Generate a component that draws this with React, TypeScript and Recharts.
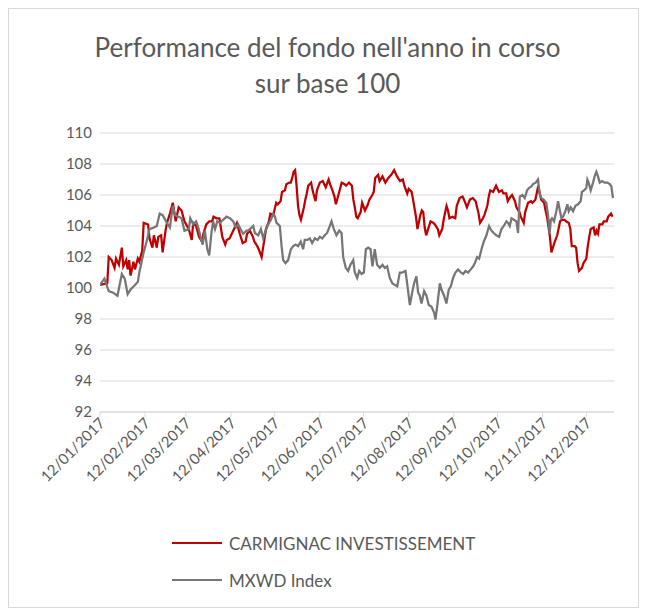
import React from "react"
import { LineChart, Line, XAxis, YAxis, CartesianGrid } from "recharts"

// days counted from 12/01/2017
const tickDays = [0, 31, 59, 90, 120, 151, 181, 212, 243, 273, 304, 334]
const tickLabels = [
  "12/01/2017", "12/02/2017", "12/03/2017", "12/04/2017", "12/05/2017", "12/06/2017",
  "12/07/2017", "12/08/2017", "12/09/2017", "12/10/2017", "12/11/2017", "12/12/2017",
]
const yTicks = [92, 94, 96, 98, 100, 102, 104, 106, 108, 110]

const carmignacDay = [
  0, 5, 6, 8, 10, 11, 13, 15, 16, 18, 19, 20, 21, 23, 24, 26, 27, 29, 30, 33, 34, 36, 37, 39, 40, 42, 43, 45, 46, 48, 50,
  52, 54, 56, 58, 61, 63, 64, 66, 68, 70, 71, 73, 75, 77, 78, 80, 82, 84, 86, 87, 89, 91, 93, 94, 96, 98, 100, 101,
  103, 105, 106, 108, 109, 111, 112, 114, 116, 117, 119, 121, 122, 124, 125, 127, 128, 130, 131, 132, 133, 134, 135,
  136, 137, 138, 140, 141, 142, 143, 145, 146, 148, 149, 151, 153, 155, 157, 158, 160, 161, 162, 164, 166, 168, 169,
  171, 173, 174, 175, 176, 177, 179, 180, 182, 184, 185, 187, 188, 189, 191, 192, 194, 196, 198, 200, 202, 204, 206,
  208, 209, 211, 212, 214, 215, 217, 218, 220, 221, 222, 223, 224, 225, 227, 229, 230, 232, 233, 235, 236, 238, 239,
  240, 242, 244, 245, 247, 249, 250, 252, 254, 256, 258, 260, 261, 263, 264, 266, 267, 268, 270, 272, 274, 276, 277,
  279, 280, 282, 283, 285, 286, 288, 289, 291, 292, 294, 296, 297, 299, 301, 302, 303, 305, 306, 307, 309, 310, 312,
  314, 316, 317, 319, 320, 322, 323, 324, 326, 327, 328, 329, 331, 332, 334, 335, 336, 337, 339, 340, 341, 342, 343,
  345, 346, 348, 349, 351, 352,
]
const carmignacValue = [
  100.2, 100.3, 102.0, 101.8, 101.3, 101.9, 101.5, 102.6, 101.4, 101.8, 101.2, 101.8, 100.8, 101.7, 101.2, 101.9, 101.7,
  102.4, 104.2, 104.1, 103.2, 102.6, 103.4, 102.6, 103.3, 103.4, 102.3, 103.7, 104.2, 104.8, 105.5,
  104.3, 105.2, 105.0, 104.3, 103.8, 103.1, 104.2, 104.0, 103.3, 103.0, 103.5, 104.1, 104.3, 104.3, 104.6, 104.5, 104.5,
  103.3, 102.8, 103.1, 103.2, 103.6, 104.0, 104.2, 103.5, 102.9, 103.0, 103.5,
  103.7, 103.3, 103.0, 102.7, 102.5, 102.0, 102.6, 103.8, 104.3, 104.8, 104.7, 105.5, 105.4, 105.6, 106.2, 106.3, 106.7,
  106.8, 106.8, 107.1, 107.5, 107.6, 106.6,
  105.3, 104.7, 104.4, 105.2, 105.7, 106.1, 106.6, 106.8, 106.3, 105.6, 106.3, 106.8, 106.9, 106.5, 107.0, 106.7, 106.2,
  105.9, 105.4, 106.1, 106.8, 106.7, 106.6,
  106.8, 106.6, 105.7, 105.2, 104.6, 104.5, 104.9, 105.5, 105.0, 105.4, 105.7, 106.0, 106.2, 107.1, 107.3, 106.9, 107.2,
  106.8, 107.1, 107.3, 107.6, 107.2, 106.9,
  107.0, 106.6, 106.1, 106.4, 106.2, 105.7, 104.6, 103.8, 104.7, 105.0, 104.9, 103.9, 103.4, 103.7, 104.3, 104.2, 104.1,
  103.8, 103.4, 103.8, 104.4, 105.3, 105.0,
  104.5, 104.6, 104.5, 105.3, 105.8, 105.9, 105.7, 105.2, 105.7, 105.8, 105.6, 104.8, 104.2, 104.5, 104.7, 105.3, 105.9,
  106.3, 106.2, 106.6, 106.2, 106.3, 106.1,
  106.1, 105.6, 105.9, 106.0, 105.6, 105.2, 104.9, 104.6, 104.2, 104.9, 105.5, 105.6, 105.5, 105.7, 106.6, 106.1, 105.7,
  105.5, 105.0, 104.6, 103.3, 102.3, 102.9,
  103.4, 104.3, 104.4, 104.4, 104.3, 104.2, 103.8, 102.7, 102.7, 102.6, 101.6, 101.1, 101.3, 101.6, 101.9, 102.7, 103.3,
  103.8, 103.9, 103.4, 103.7, 103.5, 104.1,
  104.1, 104.3, 104.3, 104.6, 104.8, 104.6,
]

const mxwdDay = [
  0, 3, 6, 9, 12, 15, 17, 19, 21, 24, 26, 27, 30, 32, 34, 37, 39, 41, 43, 46, 48, 50, 51.5, 54, 56, 58, 61, 62, 64, 66,
  67.5, 69, 70.5, 72, 73.7, 75, 76.6, 77.7, 79, 80.5, 82.4, 84.6, 86.9, 89.2, 91.5, 93.3, 94.9, 96.5, 98.3, 100.7,
  101.8, 104.1, 105.2, 106.4, 108.7, 110.5, 112.1, 113.7, 115.5, 117.4, 119, 120.2, 121.2, 122.4, 123.5, 124.7, 125.8,
  127.4, 129.2, 131.1, 132.7, 134.3, 136.1, 137.9, 139.5, 140.6, 142.5, 144.1, 145.7, 147.6, 149.4, 151, 152.6, 154.4,
  156, 157.4, 159, 160.6, 162.4, 164.3, 165.9, 167, 168.8, 170.4, 172, 173.9, 175, 176.6, 178, 179.6, 181.2, 182.6,
  184.2, 185.8, 187.1, 188.7, 190.3, 192.2, 194, 195.6, 197.2, 199, 200.8, 202.5, 204.1, 205.9, 207.5, 209.8, 211.2,
  212.8, 214.4, 215.7, 217.3, 218.5, 219.6, 220.8, 222.6, 224.2, 225.8, 227.6, 229.5, 230.4, 231.8, 233.4, 234.5,
  236.3, 237.9, 239.5, 240.9, 242.5, 244.1, 245.9, 247.8, 249.4, 251, 252.8, 254.6, 256.3, 257.4, 259, 260.4, 262,
  263.6, 265.4, 266.6, 267.2, 268.8, 270.4, 272.2, 274.1, 275.7, 277.3, 279.1, 280.3, 281.4, 282.6, 284.2, 286, 287.1,
  288.3, 290.1, 291.7, 293.3, 294.6, 296.3, 297.4, 299.2, 300.8, 301.9, 303.1, 304.7, 306.5, 307.7, 308.8, 309.6,
  310.4, 311.8, 313.4, 314.6, 315.7, 316.9, 318, 319.6, 321, 321.9, 323.3, 324.9, 326.5, 328.3, 330.1, 331, 332.4,
  334, 334.7, 335.6, 337, 338.6, 339.7, 340.9, 342, 343.2, 344.8, 346.6, 348.4, 350.1, 351.2, 352.3,
]
const mxwdValue = [
  100.2, 100.6, 99.8, 99.7, 99.5, 100.9, 100.6, 99.6, 99.9, 100.2, 100.4, 101.0, 102.3, 103.0, 103.8, 103.9, 104.0,
  104.8, 104.7, 104.2, 103.9, 105.3, 104.7, 104.6, 104.5, 103.7, 103.8, 104.5, 104.1, 104.3,
  103.9, 103.3, 102.8, 103.7, 102.5, 102.1, 103.6, 104.3, 103.8, 104.3, 104.2, 104.4, 104.6, 104.5, 104.3, 103.9, 104.1,
  103.8, 103.5, 103.7,
  103.7, 103.9, 104.0, 103.55, 103.4, 103.8, 103.2, 103.7, 104.1, 104.4, 104.8, 104.6, 104.2, 104.1, 104.0, 102.7, 101.8,
  101.6, 101.8, 102.5, 102.7, 102.8, 102.7, 103.0, 102.5, 103.1, 103.1, 103.2, 102.9, 103.2, 103.1, 103.3, 103.2, 103.4,
  103.55, 103.9, 104.3, 103.8, 103.4, 103.7, 103.55, 102.0, 101.3, 101.1, 101.5, 101.8, 101.0, 100.65, 101.1, 100.9,
  101.0, 102.5,
  102.6, 102.5, 101.4, 102.5, 101.5, 101.3, 101.5, 101.3, 101.4, 100.65, 100.3, 100.2, 100.1, 101.0, 101.0, 101.1, 100.1,
  98.9, 99.7, 100.3, 100.75, 99.7, 99.5, 99.0, 99.8, 99.5, 98.9, 98.8, 98.4, 97.96, 99.0, 100.3, 99.9,
  99.5, 99.0, 99.9, 100.1, 100.65, 101.0, 101.2, 101.0, 100.9, 101.1, 101.0, 101.2, 101.4, 101.6, 102.0, 101.9, 102.5,
  103.0, 103.4, 103.8, 104.0, 103.7, 103.55, 103.4, 103.3, 103.8, 104.0, 104.3, 104.2, 104.0, 104.5, 104.4, 104.3, 103.55,
  105.9, 106.0, 105.8, 106.3, 106.45, 106.55, 106.7, 106.8, 107.0, 106.1, 105.8, 105.7, 105.5, 104.7, 103.5, 104.4,
  104.5, 104.3, 104.95, 105.6, 105.05, 104.5, 104.6, 104.95, 105.4, 104.95, 105.2, 104.95, 105.3, 105.4, 105.6, 106.2,
  106.3,
  106.45, 107.0, 106.8, 106.3, 106.8, 107.2, 107.5, 107.2, 106.8, 106.9, 106.8, 106.8, 106.7, 106.55, 105.8,
]

const carmignacData = carmignacDay.map((day, i) => ({ day, value: carmignacValue[i] }))
const mxwdData = mxwdDay.map((day, i) => ({ day, value: mxwdValue[i] }))

const textColor = "#595959"
const gridColor = "#d9d9d9"
const font = "Lato, 'Open Sans', sans-serif"

function DateTick(props: any) {
  const { x, y, payload } = props
  const idx = tickDays.indexOf(payload.value)
  return (
    <g transform={`translate(${x + 6},${y + 5})`}>
      <text x={0} y={0} textAnchor="end" transform="rotate(-45)" fill={textColor} fontSize={15} fontFamily={font}>
        {tickLabels[idx]}
      </text>
    </g>
  )
}

export default function App() {
  return (
    <div
      style={{
        position: "relative",
        width: 629,
        height: 598,
        border: `1px solid ${gridColor}`,
        background: "#fff",
        fontFamily: font,
      }}
    >
      <div
        style={{
          position: "absolute",
          top: 20,
          left: 4,
          width: 629,
          textAlign: "center",
          color: textColor,
          fontSize: 26,
          lineHeight: "36px",
        }}
      >
        Performance del fondo nell'anno in corso
        <br />
        sur base 100
      </div>
      <div style={{ position: "absolute", top: 0, left: 0 }}>
        <LineChart width={629} height={480} margin={{ top: 124, right: 24, bottom: 7, left: 0 }}>
          <CartesianGrid vertical={false} stroke={gridColor} />
          <XAxis
            dataKey="day"
            type="number"
            domain={[0, 353]}
            ticks={tickDays}
            tick={<DateTick />}
            interval={0}
            height={70}
            axisLine={{ stroke: gridColor }}
            tickLine={{ stroke: gridColor }}
            tickSize={5}
            allowDataOverflow
          />
          <YAxis
            type="number"
            domain={[92, 110]}
            ticks={yTicks}
            width={91}
            axisLine={false}
            tickLine={false}
            tickSize={0}
            tickMargin={8}
            tick={{ fill: textColor, fontSize: 15, fontFamily: font }}
          />
          <Line
            data={carmignacData}
            dataKey="value"
            name="CARMIGNAC INVESTISSEMENT"
            stroke="#c00000"
            strokeWidth={2.25}
            dot={false}
            type="linear"
            isAnimationActive={false}
          />
          <Line
            data={mxwdData}
            dataKey="value"
            name="MXWD Index"
            stroke="#767676"
            strokeWidth={2.25}
            dot={false}
            type="linear"
            isAnimationActive={false}
          />
        </LineChart>
      </div>
      {[
        { label: "CARMIGNAC INVESTISSEMENT", color: "#c00000", top: 534 },
        { label: "MXWD Index", color: "#767676", top: 571 },
      ].map((item) => (
        <div
          key={item.label}
          style={{ position: "absolute", left: 163, top: item.top - 12, height: 24, display: "flex", alignItems: "center" }}
        >
          <div style={{ width: 50, height: 2, background: item.color, marginRight: 7 }} />
          <span style={{ color: textColor, fontSize: 17 }}>{item.label}</span>
        </div>
      ))}
    </div>
  )
}
